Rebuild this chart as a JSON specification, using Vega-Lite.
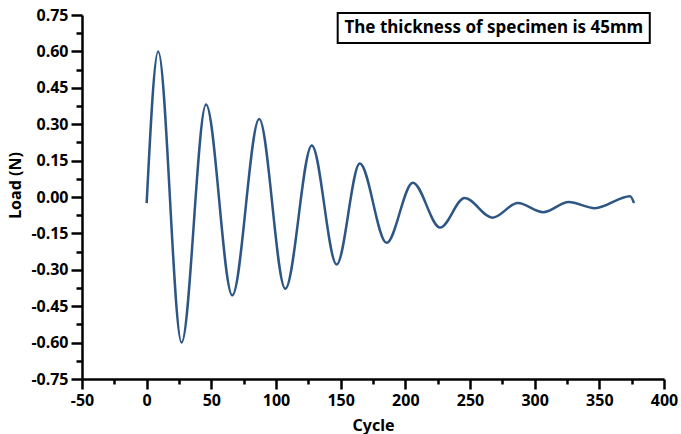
{
  "$schema": "https://vega.github.io/schema/vega-lite/v6.json",
  "autosize": "none",
  "width": 582,
  "height": 364,
  "padding": {"left": 82, "top": 15, "right": 17, "bottom": 55},
  "background": "white",
  "config": {
    "view": {"stroke": null},
    "font": "Noto Sans",
    "axis": {
      "grid": false,
      "domainColor": "black",
      "domainWidth": 2.5,
      "tickColor": "black",
      "tickWidth": 2.5,
      "labelFont": "Noto Sans",
      "labelFontWeight": "bold",
      "labelFontSize": 16,
      "labelColor": "black",
      "titleFont": "Noto Sans",
      "titleFontWeight": "bold",
      "titleFontSize": 16,
      "titleColor": "black",
      "labelFlush": false,
      "labelOverlap": false,
      "labelBound": false
    }
  },
  "datasets": {
    "load": [
      {"cycle": 0, "load": -0.025},
      {"cycle": 8.9, "load": 0.6},
      {"cycle": 27.0, "load": -0.6},
      {"cycle": 45.9, "load": 0.381},
      {"cycle": 66.2, "load": -0.405},
      {"cycle": 87.0, "load": 0.321},
      {"cycle": 107.2, "load": -0.378},
      {"cycle": 127.7, "load": 0.2125},
      {"cycle": 146.9, "load": -0.278},
      {"cycle": 164.8, "load": 0.138},
      {"cycle": 185.5, "load": -0.189},
      {"cycle": 205.8, "load": 0.059},
      {"cycle": 226.9, "load": -0.126},
      {"cycle": 245.8, "load": -0.004},
      {"cycle": 267.4, "load": -0.085},
      {"cycle": 287.0, "load": -0.025},
      {"cycle": 306.6, "load": -0.0625},
      {"cycle": 326.3, "load": -0.021},
      {"cycle": 346.6, "load": -0.046},
      {"cycle": 373.8, "load": 0.003},
      {"cycle": 376.8, "load": -0.025}
    ],
    "note": [
      {"x1": 147.7, "x2": 389, "y1": 0.758, "y2": 0.635, "xc": 268.4, "yc": 0.6965, "text": "The thickness of specimen is 45mm"}
    ]
  },
  "resolve": {"axis": {"x": "independent", "y": "independent"}},
  "layer": [
    {
      "data": {"name": "load"},
      "mark": {"type": "line", "interpolate": "monotone", "color": "#2D5685", "strokeWidth": 2.5},
      "encoding": {
        "x": {
          "field": "cycle", "type": "quantitative",
          "scale": {"domain": [-50, 400], "nice": false, "zero": false},
          "axis": {
            "orient": "bottom",
            "title": "Cycle",
            "values": [-50, 0, 50, 100, 150, 200, 250, 300, 350, 400],
            "labelExpr": "replace(datum.label, '\u2212', '-')",
            "tickSize": 10,
            "labelPadding": 3,
            "titlePadding": 9,
            "labelOverlap": false
          }
        },
        "y": {
          "field": "load", "type": "quantitative",
          "scale": {"domain": [-0.75, 0.75], "nice": false, "zero": false},
          "axis": {
            "orient": "left",
            "title": "Load (N)",
            "values": [-0.75, -0.6, -0.45, -0.3, -0.15, 0, 0.15, 0.3, 0.45, 0.6, 0.75],
            "format": ".2f",
            "labelExpr": "replace(datum.label, '\u2212', '-')",
            "tickSize": 11,
            "labelPadding": 3,
            "titlePadding": 7,
            "titleY": 170,
            "labelOverlap": false
          }
        }
      }
    },
    {
      "data": {"name": "note"},
      "mark": {"type": "rect", "fill": "white", "stroke": "black", "strokeWidth": 2},
      "encoding": {
        "x": {
          "field": "x1", "type": "quantitative",
          "axis": {
            "orient": "bottom",
            "title": null,
            "values": [-25, 25, 75, 125, 175, 225, 275, 325, 375],
            "tickSize": 5,
            "labels": false,
            "domain": false
          }
        },
        "x2": {"field": "x2"},
        "y": {
          "field": "y1", "type": "quantitative",
          "axis": {
            "orient": "left",
            "title": null,
            "values": [-0.675, -0.525, -0.375, -0.225, -0.075, 0.075, 0.225, 0.375, 0.525, 0.675],
            "tickSize": 6,
            "labels": false,
            "domain": false
          }
        },
        "y2": {"field": "y2"}
      }
    },
    {
      "data": {"name": "note"},
      "mark": {"type": "text", "font": "Noto Sans", "fontWeight": "bold", "fontSize": 17, "color": "black", "align": "center", "baseline": "middle"},
      "encoding": {
        "x": {"field": "xc", "type": "quantitative", "axis": null},
        "y": {"field": "yc", "type": "quantitative", "axis": null},
        "text": {"field": "text"}
      }
    }
  ]
}
